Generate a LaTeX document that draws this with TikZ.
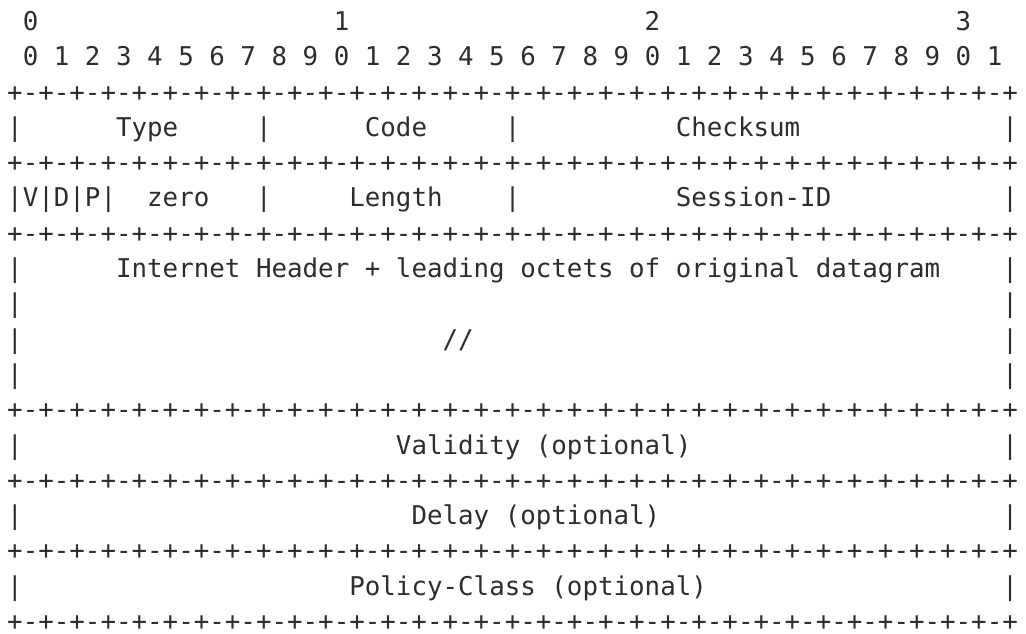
\documentclass[tikz,border=0pt]{standalone}
\usepackage{fontspec}
\setmonofont{DejaVu Sans Mono}
\usetikzlibrary{positioning}
\definecolor{asciigray}{RGB}{45,45,48}

\begin{document}
\begin{tikzpicture}[
        x = 15.55pt,
        y = -35.3pt,
        cell/.style = {
            anchor = base west,
            inner sep = 0pt,
            outer sep = 0pt,
            text = asciigray,
            font = \ttfamily\fontsize{25.83pt}{30pt}\selectfont
        }
    ]
    \useasboundingbox (-0.965,-0.864) rectangle (65.02,17.096);

    % bit numbering
    \foreach \d/\c in {0/1, 1/21, 2/41, 3/61}
        \node[cell] (tens\d) at ({\c-0.5}, 0) {\d};
    \node[cell] (units) at (0.5, 1) {0 1 2 3 4 5 6 7 8 9 0 1 2 3 4 5 6 7 8 9 0 1 2 3 4 5 6 7 8 9 0 1};

    % +-+ rules
    \foreach \r in {2, 4, 6, 11, 13, 15, 17}
        \node[cell] (rule\r) at (-0.5, \r) {+\foreach \k in {1,...,32}{-+}};

    % outer bars
    \foreach \r in {3, 5, 7, 8, 9, 10, 12, 14, 16}
        \node[cell] (bar\r) at (63.5, \r) {|};
    \foreach \r in {3, 7, 8, 9, 10, 12, 14, 16}
        \node[cell] (lbar\r) at (-0.5, \r) {|};

    % inner bars
    \foreach \r in {3, 5}
        \foreach \c in {16, 32}
            \node[cell] (ibar\r-\c) at ({\c-0.5}, \r) {|};

    % fields
    \node[cell] (type) at (6.5, 3) {Type};
    \node[cell] (code) at (22.5, 3) {Code};
    \node[cell] (checksum) at (42.5, 3) {Checksum};

    \node[cell] (flags) at (-0.5, 5) {|V|D|P|};
    \node[cell] (zero) at (8.5, 5) {zero};
    \node[cell] (length) at (21.5, 5) {Length};
    \node[cell] (session) at (42.5, 5) {Session-ID};

    \node[cell] (payload) at (6.5, 7) {Internet Header + leading octets of original datagram};
    \node[cell] (cut) at (27.5, 9) {//};

    \node[cell] (validity) at (24.5, 12) {Validity (optional)};
    \node[cell] (delay) at (25.5, 14) {Delay (optional)};
    \node[cell] (policy) at (21.5, 16) {Policy-Class (optional)};

\end{tikzpicture}
\end{document}
